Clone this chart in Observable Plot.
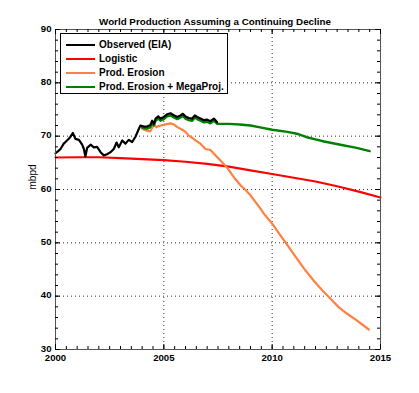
<!DOCTYPE html>
<html><head><meta charset="utf-8">
<script src="https://cdn.jsdelivr.net/npm/d3@7"></script>
<script src="https://cdn.jsdelivr.net/npm/@observablehq/plot@0.6"></script>
<style>
body{margin:0;background:#fff;}
#wrap{position:relative;width:419px;height:393px;}
#legend{position:absolute;left:60px;top:33px;width:168px;height:61px;border:1px solid #000;background:#fff;font:bold 10px "Liberation Sans",Arial,sans-serif;box-sizing:border-box;}
.row{position:absolute;left:0;height:14px;width:160px;}
.sw{position:absolute;left:5px;top:6px;width:29px;height:2.2px;}
.lab{position:absolute;left:38px;top:1px;white-space:nowrap;line-height:12px;}
</style>
</head><body><div id="wrap"></div>
<script>
const title = "World Production Assuming a Continuing Decline";
const yLabel = "mbpd";
const xTicks = [2000, 2005, 2010, 2015];
const yTicks = [30, 40, 50, 60, 70, 80, 90];
const seriesNames = ["Observed (EIA)", "Logistic", "Prod. Erosion", "Prod. Erosion + MegaProj."];
const seriesColors = ["#000000", "#ff0000", "#ff8040", "#008000"];

const obsYear = [2000.00,2000.15,2000.23,2000.38,2000.46,2000.61,2000.69,2000.80,2000.92,2001.08,2001.23,2001.31,2001.38,2001.46,2001.62,2001.77,2001.92,2002.08,2002.23,2002.38,2002.54,2002.69,2002.82,2002.92,2003.08,2003.23,2003.38,2003.54,2003.69,2003.85,2003.92,2004.08,2004.23,2004.38,2004.46,2004.54,2004.62,2004.74,2004.85,2005.00,2005.15,2005.31,2005.46,2005.62,2005.77,2005.88,2006.00,2006.15,2006.31,2006.43,2006.54,2006.69,2006.85,2007.00,2007.15,2007.31,2007.46];
const obsValue = [66.8,67.3,67.6,68.6,68.9,69.5,69.9,70.6,69.5,69.3,68.4,67.6,66.2,67.8,68.4,67.9,68.0,67.0,66.4,66.6,67.0,67.6,68.8,67.9,69.2,68.6,69.3,68.9,69.9,71.4,72.0,71.8,71.8,72.1,72.9,72.3,73.3,73.7,73.3,73.6,74.1,74.3,73.9,73.6,73.9,74.2,73.7,73.4,73.3,73.9,73.6,73.3,73.0,73.1,72.8,73.3,72.6];

const logYear = [2000,2001,2002,2003,2004,2005,2006,2007,2008,2009,2010,2011,2012,2013,2014,2015];
const logValue = [66.0,66.05,66.05,65.9,65.7,65.5,65.2,64.8,64.3,63.6,62.9,62.2,61.5,60.6,59.6,58.5];

const eroYear = [2004.00,2004.10,2004.23,2004.38,2004.54,2004.65,2004.85,2005.08,2005.31,2005.46,2005.62,2005.85,2006.00,2006.15,2006.31,2006.46,2006.69,2006.92,2007.15,2007.46,2007.69,2007.92,2008.23,2008.54,2008.77,2009.00,2009.46,2009.61,2010.00,2010.38,2010.77,2011.15,2011.54,2011.92,2012.31,2012.69,2013.08,2013.46,2013.92,2014.46];
const eroValue = [71.4,71.2,71.0,70.9,72.2,71.7,72.0,72.2,72.4,72.2,71.7,71.2,70.8,70.1,69.7,69.2,68.6,67.6,67.4,66.1,65.1,64.1,62.3,60.8,59.9,58.9,56.4,55.5,53.6,51.4,49.2,47.0,44.8,42.9,41.1,39.5,37.9,36.7,35.4,33.75];

const megaYear = [2004.00,2004.08,2004.23,2004.38,2004.46,2004.54,2004.62,2004.74,2004.85,2005.00,2005.15,2005.31,2005.46,2005.62,2005.77,2005.88,2006.00,2006.15,2006.31,2006.43,2006.54,2006.69,2006.85,2007.00,2007.15,2007.31,2007.46,2007.60,2008.00,2008.50,2009.00,2009.50,2010.00,2010.70,2011.20,2011.60,2012.00,2012.40,2013.15,2013.90,2014.50];
const megaValue = [71.6,71.5,71.4,71.7,72.5,72.0,72.9,73.3,72.9,73.2,73.7,73.9,73.5,73.2,73.5,73.8,73.3,73.0,72.9,73.5,73.2,72.9,72.6,72.7,72.4,72.9,72.3,72.3,72.3,72.2,72.0,71.6,71.2,70.8,70.4,69.8,69.4,69.0,68.4,67.8,67.2];

const rows = (xs, ys) => xs.map((x, i) => ({x, y: ys[i]}));

const W = 419, H = 393, mL = 55, mR = 39, mT = 29, mB = 44;
const pw = W - mL - mR, ph = H - mT - mB;
const xMinor = d3.range(2000, 2015.01, 0.5);
const yMinor = d3.range(30, 90.01, 2);
const tMin = 3, tMaj = 5;

const chart = Plot.plot({
  width: W, height: H,
  marginLeft: mL, marginRight: mR, marginTop: mT, marginBottom: mB,
  x: {domain: [xTicks[0], xTicks[xTicks.length - 1]], label: null},
  y: {domain: [yTicks[0], yTicks[yTicks.length - 1]], label: null},
  style: {fontFamily: '"Liberation Sans", Arial, sans-serif', fontSize: "9.6px", fontWeight: "bold", background: "#fff", color: "#000", overflow: "visible"},
  marks: [
    Plot.ruleX(xTicks.slice(1, -1), {stroke: "#000", strokeDasharray: "1,3", strokeOpacity: 0.8}),
    Plot.ruleY(yTicks.slice(1, -1), {stroke: "#000", strokeDasharray: "1,3", strokeOpacity: 0.8}),
    Plot.line(rows(logYear, logValue), {x: "x", y: "y", stroke: seriesColors[1], strokeWidth: 2.2}),
    Plot.line(rows(eroYear, eroValue), {x: "x", y: "y", stroke: seriesColors[2], strokeWidth: 2.2}),
    Plot.line(rows(megaYear, megaValue), {x: "x", y: "y", stroke: seriesColors[3], strokeWidth: 2.4}),
    Plot.line(rows(obsYear, obsValue), {x: "x", y: "y", stroke: seriesColors[0], strokeWidth: 2.2}),
    Plot.frame({stroke: "#555"}),
    Plot.tickX(xMinor, {x: d => d, insetTop: ph - tMin, stroke: "#000"}),
    Plot.tickX(xMinor, {x: d => d, insetBottom: ph - tMin, stroke: "#000"}),
    Plot.tickX(xTicks, {x: d => d, insetTop: ph - tMaj, stroke: "#000"}),
    Plot.tickX(xTicks, {x: d => d, insetBottom: ph - tMaj, stroke: "#000"}),
    Plot.tickY(yMinor, {y: d => d, insetRight: pw - tMin, stroke: "#000"}),
    Plot.tickY(yMinor, {y: d => d, insetLeft: pw - tMin, stroke: "#000"}),
    Plot.tickY(yTicks, {y: d => d, insetRight: pw - tMaj, stroke: "#000"}),
    Plot.tickY(yTicks, {y: d => d, insetLeft: pw - tMaj, stroke: "#000"}),
    Plot.axisX({ticks: xTicks, tickSize: 0, tickPadding: 5, tickFormat: d => String(d)}),
    Plot.axisY({ticks: yTicks, tickSize: 0, tickPadding: 4, dy: -1, tickFormat: d => String(d)}),
    Plot.text([title], {frameAnchor: "top", dy: -11, dx: -3, fontSize: 9.8}),
    Plot.text([yLabel], {frameAnchor: "left", dx: -23, rotate: -90, fontWeight: "normal", fontSize: 10})
  ]
});

const wrap = document.getElementById("wrap");
wrap.appendChild(chart);
const legend = document.createElement("div");
legend.id = "legend";
const centers = [10.5, 25, 39, 53];
seriesNames.forEach((name, i) => {
  const r = document.createElement("div");
  r.className = "row";
  r.style.top = (centers[i] - 7) + "px";
  const sw = document.createElement("div");
  sw.className = "sw";
  sw.style.background = seriesColors[i];
  const lab = document.createElement("div");
  lab.className = "lab";
  lab.textContent = name;
  r.appendChild(sw); r.appendChild(lab);
  legend.appendChild(r);
});
wrap.appendChild(legend);
</script></body></html>
